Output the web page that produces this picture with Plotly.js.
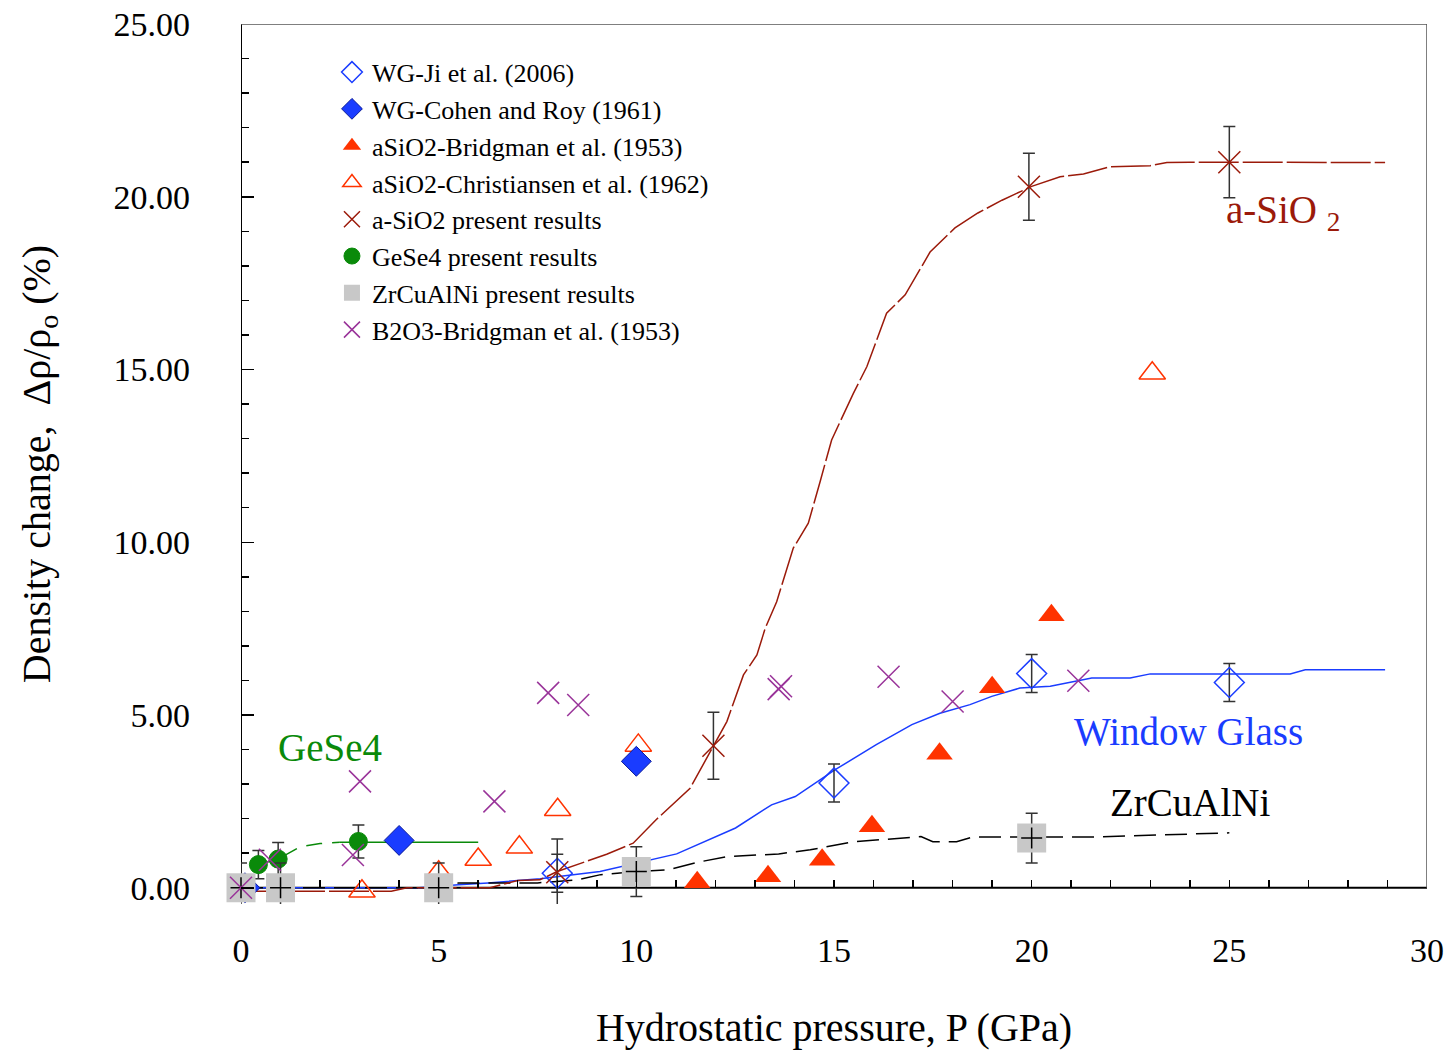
<!DOCTYPE html>
<html>
<head>
<meta charset="utf-8">
<script src="https://cdn.plot.ly/plotly-3.0.1.min.js"></script>
<style>html,body{margin:0;padding:0;background:#fff;}</style>
</head>
<body>
<div id="chart" style="width:1445px;height:1053px;"></div>
<script>
// ---------- data ----------
// WG-Ji et al. (2006) – open blue diamonds
var jiX = [8.0, 15.0, 20.0, 25.0];
var jiY = [0.42, 3.03, 6.2, 5.94];
var jiErr = [0.55, 0.55, 0.55, 0.55];

// WG-Cohen and Roy (1961) – filled blue diamonds
var cohenX = [0.1, 4.0, 10.0];
var cohenY = [0.0, 1.37, 3.66];

// aSiO2-Bridgman et al. (1953) – filled red triangles
var bridgX = [11.54, 13.33, 14.7, 15.96, 17.67, 19.0, 20.5];
var bridgY = [0.16, 0.33, 0.81, 1.78, 3.88, 5.8, 7.89];

// aSiO2-Christiansen et al. (1962) – open red triangles
var chrisX = [3.06, 5.0, 6.0, 7.04, 8.01, 10.05, 23.05];
var chrisY = [-0.1, 0.45, 0.82, 1.17, 2.26, 4.12, 14.89];

// a-SiO2 present results – dark red crosses with error bars
var sioX = [8.0, 11.95, 19.93, 25.0];
var sioY = [0.45, 4.11, 20.29, 21.0];
var sioErr = [0.96, 0.97, 0.97, 1.03];

// GeSe4 present results – green circles
var geX = [0.44, 0.94, 2.97];
var geY = [0.67, 0.83, 1.34];
var geErr = [0.41, 0.48, 0.48];

// ZrCuAlNi present results – grey squares with error bars
var zrX = [0, 1, 5, 10, 20];
var zrY = [0, 0, 0, 0.47, 1.44];
var zrErr = [0.72, 0.72, 0.72, 0.72, 0.72];

// B2O3-Bridgman et al. (1953) – purple crosses
var b2o3X = [0.0, 0.73, 2.83, 3.01, 6.41, 7.77, 8.53, 13.6, 13.66, 16.38, 18.0, 21.18];
var b2o3Y = [0.0, 0.81, 0.95, 3.08, 2.5, 5.64, 5.29, 5.75, 5.83, 6.11, 5.39, 5.99];

// fitted curves
var sioFitX = [0, 3.8, 4.2, 6.3, 7.0, 7.56, 8.0, 8.58, 9.25, 9.92, 10.5, 11.36, 11.95, 12.29, 12.71, 13.05, 13.26, 13.55, 13.97, 14.35, 14.65, 14.94, 15.49, 15.83, 16.33, 16.8, 17.43, 18.06, 18.64, 19.25, 20.0, 20.72, 21.31, 21.98, 23.0, 23.42, 24.0, 25.0, 25.7, 28.94];
var sioFitY = [-0.1, -0.1, 0.0, 0.0, 0.21, 0.23, 0.47, 0.71, 0.97, 1.29, 1.97, 2.88, 4.11, 4.81, 6.16, 6.74, 7.51, 8.28, 9.83, 10.55, 11.76, 12.96, 14.31, 15.08, 16.63, 17.16, 18.4, 19.1, 19.53, 19.9, 20.3, 20.58, 20.66, 20.87, 20.9, 20.99, 21.0, 21.0, 20.99, 20.99];

var wgFitX = [0, 4.5, 5.5, 6.25, 7.57, 8.0, 8.36, 9.08, 11.02, 11.61, 12.51, 13.42, 14.02, 15.02, 16.07, 16.97, 17.68, 18.44, 18.99, 19.7, 20.47, 21.52, 22.49, 23.0, 26.54, 26.92, 28.94];
var wgFitY = [0, 0, 0.09, 0.14, 0.26, 0.32, 0.38, 0.47, 0.98, 1.28, 1.73, 2.4, 2.64, 3.41, 4.14, 4.72, 5.05, 5.3, 5.54, 5.78, 5.83, 6.07, 6.07, 6.19, 6.19, 6.31, 6.31];

var zrFitX = [0, 5.0, 5.5, 6.0, 7.5, 8.5, 9.1, 10.0, 10.8, 11.6, 12.3, 13.6, 14.4, 15.5, 17.2, 17.5, 18.1, 18.5, 21.6, 25.0];
var zrFitY = [0, 0, 0.14, 0.14, 0.14, 0.23, 0.38, 0.47, 0.52, 0.75, 0.9, 0.98, 1.1, 1.33, 1.48, 1.33, 1.33, 1.47, 1.47, 1.59];

var geFitDashX = [0.44, 0.94, 1.5, 2.0, 2.5];
var geFitDashY = [0.67, 0.83, 1.19, 1.28, 1.32];
var geFitSolidX = [2.5, 6.0];
var geFitSolidY = [1.32, 1.32];

// curve labels
var labelText = ['GeSe4', 'Window Glass', 'ZrCuAlNi', 'a-SiO <sub>2</sub>'];
var labelX = [2.25, 23.96, 24.0, 26.36];
var labelY = [4.05, 4.51, 2.46, 19.53];
var labelColor = ['#0a8a0a', '#1a3cff', '#000000', '#9b1a0a'];

// ---------- styles ----------
var FONT = '"Liberation Serif", "Times New Roman", serif';
var BLUE = '#1a3cff', RED = '#ff3300', DRED = '#9b1a0a', GREEN = '#0a8a0a', PURPLE = '#993399', GREY = '#c8c8c8';
var errStyle = function (arr) {
  return {type: 'data', array: arr, visible: true, color: '#333333', thickness: 1.5, width: 6};
};

var traces = [
  {x: wgFitX, y: wgFitY, mode: 'lines', line: {color: BLUE, width: 1.5}, showlegend: false, hoverinfo: 'skip'},
  {x: zrFitX, y: zrFitY, mode: 'lines', line: {color: '#000000', width: 1.5, dash: '22px,9px'}, showlegend: false, hoverinfo: 'skip'},
  {x: sioFitX, y: sioFitY, mode: 'lines', line: {color: DRED, width: 1.5, dash: '40px,4px'}, showlegend: false, hoverinfo: 'skip'},
  {x: geFitDashX, y: geFitDashY, mode: 'lines', line: {color: GREEN, width: 1.5, dash: '16px,10px'}, showlegend: false, hoverinfo: 'skip'},
  {x: geFitSolidX, y: geFitSolidY, mode: 'lines', line: {color: GREEN, width: 1.5}, showlegend: false, hoverinfo: 'skip'},

  {x: chrisX, y: chrisY, mode: 'markers', name: 'aSiO2-Christiansen et al. (1962)', legendrank: 4, cliponaxis: false,
   marker: {symbol: 'triangle-up-open', size: 23, color: RED, line: {color: RED, width: 1.5}}},
  {x: bridgX, y: bridgY, mode: 'markers', name: 'aSiO2-Bridgman et al. (1953)', legendrank: 3, cliponaxis: false,
   marker: {symbol: 'triangle-up', size: 23, color: RED, line: {width: 0}}},
  {x: jiX, y: jiY, mode: 'markers', name: 'WG-Ji et al. (2006)', legendrank: 1, cliponaxis: false,
   error_y: errStyle(jiErr),
   marker: {symbol: 'diamond-open', size: 23, color: BLUE, line: {color: BLUE, width: 1.5}}},
  {x: cohenX, y: cohenY, mode: 'markers', name: 'WG-Cohen and Roy (1961)', legendrank: 2, cliponaxis: false,
   marker: {symbol: 'diamond', size: 23, color: BLUE, line: {color: '#0a1a99', width: 1}}},
  {x: geX, y: geY, mode: 'markers', name: 'GeSe4 present results', legendrank: 6, cliponaxis: false,
   error_y: errStyle(geErr),
   marker: {symbol: 'circle', size: 18, color: GREEN, line: {color: GREEN, width: 1}}},
  {x: zrX, y: zrY, mode: 'markers', name: 'ZrCuAlNi present results', legendrank: 7, cliponaxis: false,
   error_y: errStyle(zrErr),
   marker: {symbol: 'square', size: 29, color: GREY, line: {width: 0}}},
  {x: zrX, y: zrY, mode: 'markers', showlegend: false, cliponaxis: false, hoverinfo: 'skip',
   marker: {symbol: 'cross-thin-open', size: 15, color: '#000000', line: {color: '#000000', width: 1.5}}},
  {x: sioX, y: sioY, mode: 'markers', name: 'a-SiO2 present results', legendrank: 5, cliponaxis: false,
   error_y: errStyle(sioErr),
   marker: {symbol: 'x-thin-open', size: 22, color: DRED, line: {color: DRED, width: 1.5}}},
  {x: b2o3X, y: b2o3Y, mode: 'markers', name: 'B2O3-Bridgman et al. (1953)', legendrank: 8, cliponaxis: false,
   marker: {symbol: 'x-thin-open', size: 22, color: PURPLE, line: {color: PURPLE, width: 1.5}}}
];

var annotations = labelText.map(function (t, i) {
  return {x: labelX[i], y: labelY[i], xref: 'x', yref: 'y', text: t, showarrow: false,
          font: {family: FONT, size: 39, color: labelColor[i]}};
});

var YMIN = -0.47, YMAX = 25;
var layout = {
  width: 1445, height: 1053, autosize: false,
  margin: {l: 241, r: 18, t: 24, b: 149},
  paper_bgcolor: '#ffffff', plot_bgcolor: '#ffffff',
  font: {family: FONT, color: '#000000'},
  showlegend: true,
  legend: {x: 0.0767, y: 0.972, xanchor: 'left', yanchor: 'top', bgcolor: 'rgba(0,0,0,0)',
           borderwidth: 0, font: {family: FONT, size: 26, color: '#000000'}},
  xaxis: {range: [0, 30], anchor: 'free', position: (0 - YMIN) / (YMAX - YMIN),
          showgrid: false, zeroline: false, showline: false,
          ticks: 'inside', ticklen: 8, tickwidth: 1.5, tickcolor: '#000000',
          tick0: 0, dtick: 5, ticklabelstandoff: 39,
          minor: {dtick: 1, ticks: 'inside', ticklen: 8, tickwidth: 1.5, tickcolor: '#000000', showgrid: false},
          tickfont: {family: FONT, size: 34, color: '#000000'},
          title: {text: 'Hydrostatic pressure, P (GPa)', standoff: 45, font: {family: FONT, size: 40, color: '#000000'}}},
  yaxis: {range: [YMIN, YMAX], showgrid: false, zeroline: false, showline: false,
          ticks: 'inside', ticklen: 13, tickwidth: 1.5, tickcolor: '#000000',
          tick0: 0, dtick: 5, tickformat: '.2f', ticklabelstandoff: 50,
          minor: {dtick: 1, ticks: 'inside', ticklen: 8, tickwidth: 1.5, tickcolor: '#000000', showgrid: false},
          tickfont: {family: FONT, size: 34, color: '#000000'},
          title: {text: 'Density change,\u00a0 \u0394\u03c1/\u03c1<sub>o</sub> (%)', standoff: 50, font: {family: FONT, size: 40, color: '#000000'}}},
  shapes: [
    {type: 'line', xref: 'x', yref: 'y', x0: 0, x1: 0, y0: 0, y1: YMAX, line: {color: '#000000', width: 2}, layer: 'below'},
    {type: 'line', xref: 'x', yref: 'y', x0: 0, x1: 30, y0: 0, y1: 0, line: {color: '#000000', width: 2}, layer: 'below'},
    {type: 'line', xref: 'x', yref: 'y', x0: 0, x1: 30, y0: YMAX, y1: YMAX, line: {color: '#555555', width: 1.5}, layer: 'below'},
    {type: 'line', xref: 'x', yref: 'y', x0: 30, x1: 30, y0: 0, y1: YMAX, line: {color: '#555555', width: 1.5}, layer: 'below'}
  ],
  annotations: annotations
};

Plotly.newPlot('chart', traces, layout, {displayModeBar: false, staticPlot: true});
</script>
</body>
</html>
